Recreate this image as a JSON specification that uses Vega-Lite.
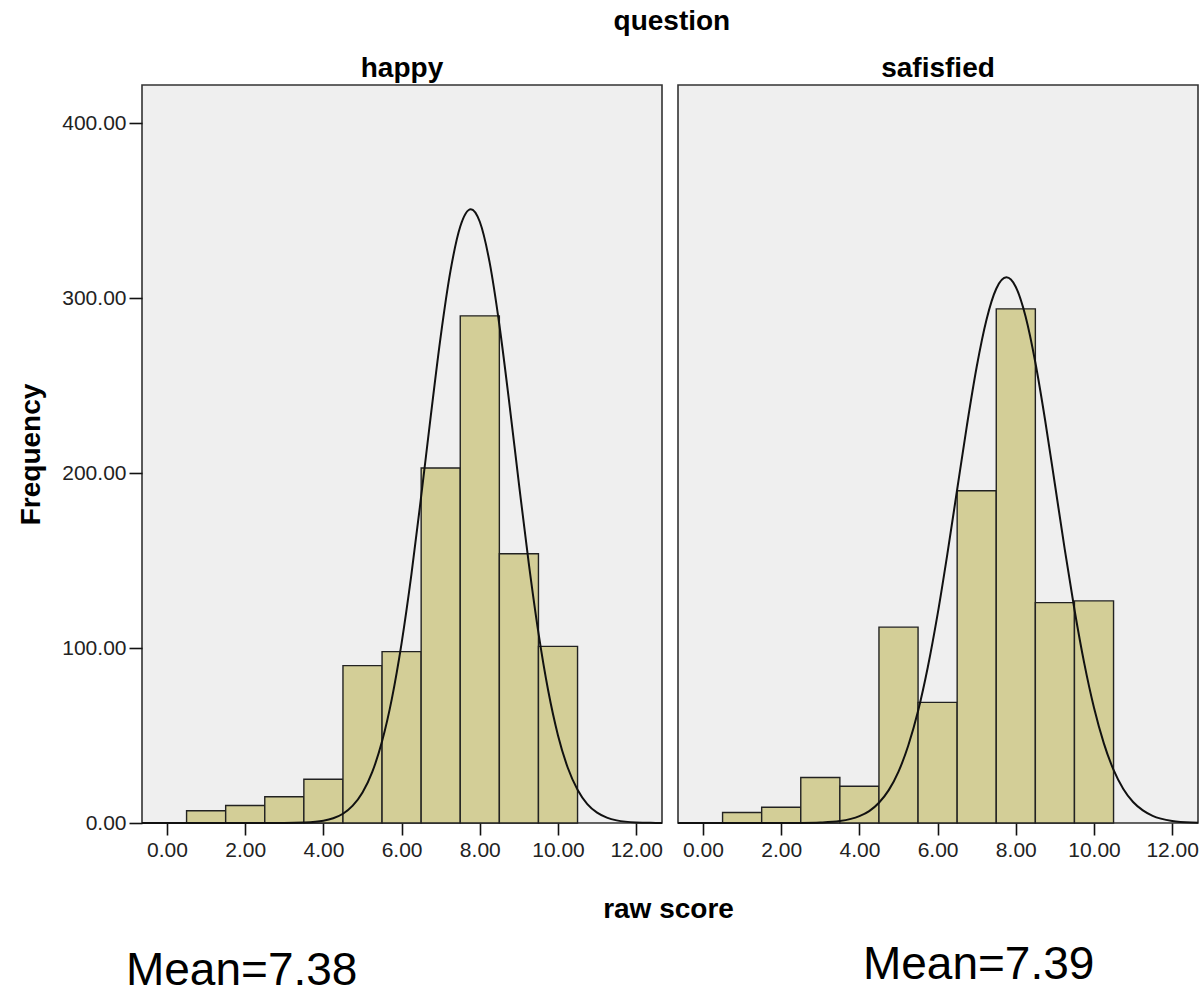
{
  "$schema": "https://vega.github.io/schema/vega-lite/v6.json",
  "background": "white",
  "padding": {"left": 16, "top": 8, "right": 2, "bottom": 0},
  "bounds": "flush",
  "title": {"text": "question", "fontSize": 28, "fontWeight": "bold", "font": "Liberation Sans", "color": "#000", "anchor": "middle", "offset": 18, "dx": 62},
  "spacing": 16,
  "datasets": {
    "happy_bars": [
      {"x": 0.5, "x2": 1.5, "y": 7},
      {"x": 1.5, "x2": 2.5, "y": 10},
      {"x": 2.5, "x2": 3.5, "y": 15},
      {"x": 3.5, "x2": 4.5, "y": 25},
      {"x": 4.5, "x2": 5.5, "y": 90},
      {"x": 5.5, "x2": 6.5, "y": 98},
      {"x": 6.5, "x2": 7.5, "y": 203},
      {"x": 7.5, "x2": 8.5, "y": 290},
      {"x": 8.5, "x2": 9.5, "y": 154},
      {"x": 9.5, "x2": 10.5, "y": 101}
    ],
    "sat_bars": [
      {"x": 0.5, "x2": 1.5, "y": 6},
      {"x": 1.5, "x2": 2.5, "y": 9},
      {"x": 2.5, "x2": 3.5, "y": 26},
      {"x": 3.5, "x2": 4.5, "y": 21},
      {"x": 4.5, "x2": 5.5, "y": 112},
      {"x": 5.5, "x2": 6.5, "y": 69},
      {"x": 6.5, "x2": 7.5, "y": 190},
      {"x": 7.5, "x2": 8.5, "y": 294},
      {"x": 8.5, "x2": 9.5, "y": 126},
      {"x": 9.5, "x2": 10.5, "y": 127}
    ],
    "happy_curve": [
      {"x": -0.64, "y": 0}, {"x": 2, "y": 0}, {"x": 3, "y": 0.04}, {"x": 3.5, "y": 0.3},
      {"x": 4, "y": 1.3}, {"x": 4.25, "y": 2.7}, {"x": 4.5, "y": 5.3}, {"x": 4.75, "y": 9.9},
      {"x": 5, "y": 17.4}, {"x": 5.25, "y": 29.2}, {"x": 5.5, "y": 46.7}, {"x": 5.75, "y": 71.0},
      {"x": 6, "y": 102.9}, {"x": 6.25, "y": 142.0}, {"x": 6.5, "y": 186.7}, {"x": 6.75, "y": 233.5},
      {"x": 7, "y": 278.3}, {"x": 7.25, "y": 315.7}, {"x": 7.5, "y": 341.1}, {"x": 7.77, "y": 351},
      {"x": 8, "y": 343.8}, {"x": 8.25, "y": 320.7}, {"x": 8.5, "y": 284.9}, {"x": 8.75, "y": 241.0},
      {"x": 9, "y": 194.1}, {"x": 9.25, "y": 148.9}, {"x": 9.5, "y": 108.7}, {"x": 9.75, "y": 75.6},
      {"x": 10, "y": 50.1}, {"x": 10.25, "y": 31.6}, {"x": 10.5, "y": 19.0}, {"x": 10.75, "y": 10.8},
      {"x": 11, "y": 5.9}, {"x": 11.25, "y": 3.1}, {"x": 11.5, "y": 1.5}, {"x": 12, "y": 0.3},
      {"x": 12.5, "y": 0.06}, {"x": 12.66, "y": 0}
    ],
    "sat_curve": [
      {"x": -0.64, "y": 0}, {"x": 2, "y": 0.01}, {"x": 2.5, "y": 0.06}, {"x": 3, "y": 0.3},
      {"x": 3.5, "y": 1.1}, {"x": 4, "y": 3.9}, {"x": 4.25, "y": 6.8}, {"x": 4.5, "y": 11.6},
      {"x": 4.75, "y": 18.8}, {"x": 5, "y": 29.4}, {"x": 5.25, "y": 44.3}, {"x": 5.5, "y": 64.0},
      {"x": 5.75, "y": 89.2}, {"x": 6, "y": 119.4}, {"x": 6.25, "y": 153.9}, {"x": 6.5, "y": 190.7},
      {"x": 6.75, "y": 227.4}, {"x": 7, "y": 260.9}, {"x": 7.25, "y": 287.8}, {"x": 7.5, "y": 305.5},
      {"x": 7.76, "y": 312}, {"x": 8, "y": 306.5}, {"x": 8.25, "y": 289.6}, {"x": 8.5, "y": 263.3},
      {"x": 8.75, "y": 230.3}, {"x": 9, "y": 193.7}, {"x": 9.25, "y": 156.8}, {"x": 9.5, "y": 122.1},
      {"x": 9.75, "y": 91.4}, {"x": 10, "y": 65.9}, {"x": 10.25, "y": 45.7}, {"x": 10.5, "y": 30.4},
      {"x": 10.75, "y": 19.5}, {"x": 11, "y": 12.0}, {"x": 11.25, "y": 7.2}, {"x": 11.5, "y": 4.1},
      {"x": 12, "y": 1.2}, {"x": 12.5, "y": 0.3}, {"x": 12.66, "y": 0.2}
    ],
    "happy_note": [{"x": 1.91, "y": -92.5, "label": "Mean=7.38"}],
    "sat_note": [{"x": 7.05, "y": -89, "label": "Mean=7.39"}]
  },
  "hconcat": [
    {
      "width": 520,
      "height": 738,
      "title": {"text": "happy", "fontSize": 28, "fontWeight": "bold", "font": "Liberation Sans", "color": "#000", "anchor": "middle", "offset": 2},
      "layer": [
        {
          "data": {"name": "happy_bars"},
          "mark": {"type": "rect", "fill": "#d3ce97", "stroke": "#222", "strokeWidth": 1.4},
          "encoding": {
            "x": {"field": "x", "type": "quantitative", "scale": {"domain": [-0.64, 12.66], "nice": false, "zero": false},
                  "axis": {"title": "raw score", "values": [0, 2, 4, 6, 8, 10, 12], "format": ".2f", "titleX": 526, "titleY": 94, "titleBaseline": "alphabetic", "titleAlign": "center", "titleAnchor": null}},
            "x2": {"field": "x2"},
            "y": {"field": "y", "type": "quantitative", "scale": {"domain": [0, 422], "nice": false},
                  "axis": {"title": "Frequency", "values": [0, 100, 200, 300, 400], "format": ".2f"}},
            "y2": {"datum": 0}
          }
        },
        {
          "data": {"name": "happy_curve"},
          "mark": {"type": "line", "color": "#111", "strokeWidth": 2, "interpolate": "monotone"},
          "encoding": {
            "x": {"field": "x", "type": "quantitative", "scale": {"domain": [-0.64, 12.66], "nice": false, "zero": false}},
            "y": {"field": "y", "type": "quantitative", "scale": {"domain": [0, 422], "nice": false}}
          }
        },
        {
          "data": {"name": "happy_note"},
          "mark": {"type": "text", "fontSize": 46, "font": "Liberation Sans", "align": "center", "baseline": "alphabetic", "color": "#000"},
          "encoding": {
            "x": {"field": "x", "type": "quantitative", "scale": {"domain": [-0.64, 12.66], "nice": false, "zero": false}},
            "y": {"field": "y", "type": "quantitative", "scale": {"domain": [0, 422], "nice": false}},
            "text": {"field": "label"}
          }
        }
      ]
    },
    {
      "width": 520,
      "height": 738,
      "title": {"text": "safisfied", "fontSize": 28, "fontWeight": "bold", "font": "Liberation Sans", "color": "#000", "anchor": "middle", "offset": 2},
      "layer": [
        {
          "data": {"name": "sat_bars"},
          "mark": {"type": "rect", "fill": "#d3ce97", "stroke": "#222", "strokeWidth": 1.4},
          "encoding": {
            "x": {"field": "x", "type": "quantitative", "scale": {"domain": [-0.64, 12.66], "nice": false, "zero": false},
                  "axis": {"title": null, "values": [0, 2, 4, 6, 8, 10, 12], "format": ".2f"}},
            "x2": {"field": "x2"},
            "y": {"field": "y", "type": "quantitative", "scale": {"domain": [0, 422], "nice": false}, "axis": null},
            "y2": {"datum": 0}
          }
        },
        {
          "data": {"name": "sat_curve"},
          "mark": {"type": "line", "color": "#111", "strokeWidth": 2, "interpolate": "monotone"},
          "encoding": {
            "x": {"field": "x", "type": "quantitative", "scale": {"domain": [-0.64, 12.66], "nice": false, "zero": false}},
            "y": {"field": "y", "type": "quantitative", "scale": {"domain": [0, 422], "nice": false}}
          }
        },
        {
          "data": {"name": "sat_note"},
          "mark": {"type": "text", "fontSize": 46, "font": "Liberation Sans", "align": "center", "baseline": "alphabetic", "color": "#000"},
          "encoding": {
            "x": {"field": "x", "type": "quantitative", "scale": {"domain": [-0.64, 12.66], "nice": false, "zero": false}},
            "y": {"field": "y", "type": "quantitative", "scale": {"domain": [0, 422], "nice": false}},
            "text": {"field": "label"}
          }
        }
      ]
    }
  ],
  "config": {
    "font": "Liberation Sans",
    "view": {"stroke": "#333", "strokeWidth": 1.6, "fill": "#efefef"},
    "axis": {
      "domain": false,
      "grid": false,
      "tickColor": "#111",
      "tickWidth": 1.6,
      "labelFont": "Liberation Sans",
      "labelFontSize": 21,
      "labelColor": "#222",
      "titleFont": "Liberation Sans",
      "titleFontSize": 28,
      "titleFontWeight": "bold",
      "titleColor": "#000"
    },
    "axisX": {"tickSize": 12, "labelPadding": 4},
    "axisY": {"tickSize": 13, "labelPadding": 3, "titlePadding": 16}
  }
}
